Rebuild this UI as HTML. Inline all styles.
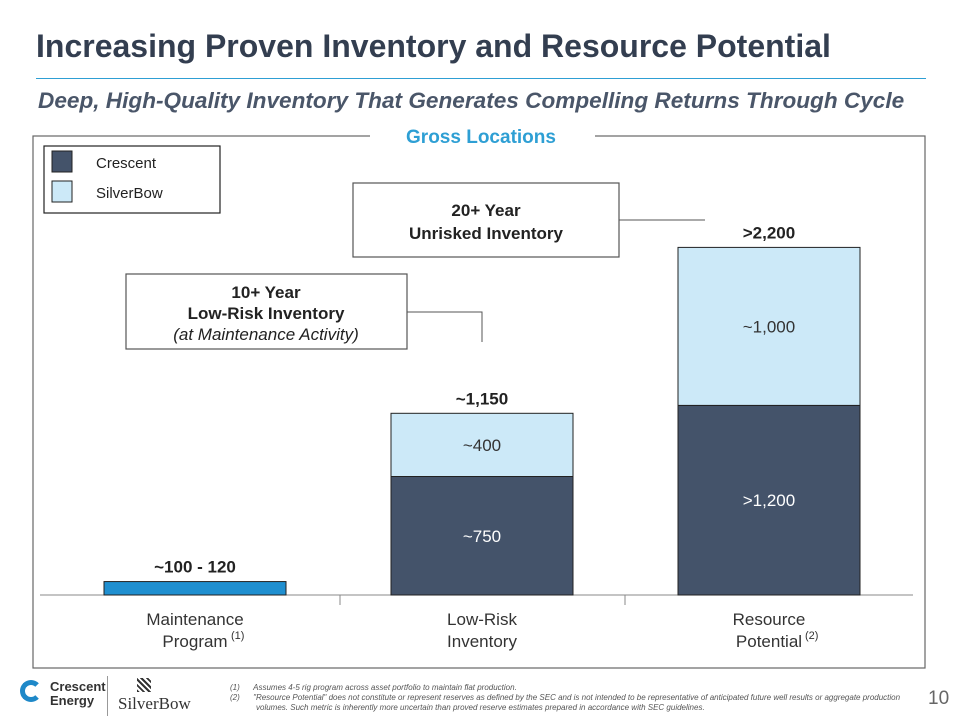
<!DOCTYPE html>
<html><head><meta charset="utf-8"><style>
body{margin:0;width:960px;height:720px;background:#fff;font-family:"Liberation Sans",Arial,sans-serif;overflow:hidden;position:relative}
.abs{position:absolute}
</style></head><body>
<div class="abs" style="left:36px;top:28px;font-size:32px;font-weight:bold;color:#333e50;white-space:nowrap">Increasing Proven Inventory and Resource Potential</div>
<div class="abs" style="left:36px;top:78px;width:890px;height:1px;background:#2e9fd4"></div>
<div class="abs" style="left:38px;top:88px;font-size:22.6px;font-weight:bold;font-style:italic;color:#4a5669;white-space:nowrap">Deep, High-Quality Inventory That Generates Compelling Returns Through Cycle</div>
<svg class="abs" style="left:0;top:0" width="960" height="720" id="chart">
<rect x="33" y="136" width="892" height="532" fill="none" stroke="#666" stroke-width="1.2"/>
<rect x="370" y="125" width="225" height="25" fill="#fff"/>
<text x="481" y="143" text-anchor="middle" font-size="19" font-weight="bold" fill="#2e9fd4">Gross Locations</text>
<g>
<rect x="44" y="146" width="176" height="67" fill="#fff" stroke="#222" stroke-width="1.2"/>
<rect x="52" y="151" width="20" height="21" fill="#44536a" stroke="#222"/>
<text x="96" y="168" font-size="15" fill="#222">Crescent</text>
<rect x="52" y="181" width="20" height="21" fill="#cce9f8" stroke="#222"/>
<text x="96" y="198" font-size="15" fill="#222">SilverBow</text>
</g>
<g>
<rect x="353" y="183" width="266" height="74" fill="#fff" stroke="#555" stroke-width="1.2"/>
<text x="486" y="216" text-anchor="middle" font-size="17" font-weight="bold" fill="#222">20+ Year</text>
<text x="486" y="239" text-anchor="middle" font-size="17" font-weight="bold" fill="#222">Unrisked Inventory</text>
<polyline points="619,220 705,220" fill="none" stroke="#555"/>
</g>
<g>
<rect x="126" y="274" width="281" height="75" fill="#fff" stroke="#555" stroke-width="1.2"/>
<text x="266" y="298" text-anchor="middle" font-size="17" font-weight="bold" fill="#222">10+ Year</text>
<text x="266" y="319" text-anchor="middle" font-size="17" font-weight="bold" fill="#222">Low-Risk Inventory</text>
<text x="266" y="340" text-anchor="middle" font-size="17" font-style="italic" fill="#222">(at Maintenance Activity)</text>
<polyline points="407,312 482,312 482,342" fill="none" stroke="#555"/>
</g>
<line x1="40" y1="595" x2="913" y2="595" stroke="#888"/>
<line x1="340" y1="595" x2="340" y2="605" stroke="#888"/>
<line x1="625" y1="595" x2="625" y2="605" stroke="#888"/>
<g id="bars"></g>
</svg>
<div class="abs" style="left:230px;top:683px;font-size:8px;font-style:italic;color:#555;line-height:10px;width:700px;white-space:nowrap">
<div>(1)&nbsp;&nbsp;&nbsp;&nbsp;&nbsp;&nbsp;Assumes 4-5 rig program across asset portfolio to maintain flat production.</div>
<div>(2)&nbsp;&nbsp;&nbsp;&nbsp;&nbsp;&nbsp;"Resource Potential" does not constitute or represent reserves as defined by the SEC and is not intended to be representative of anticipated future well results or aggregate production</div>
<div style="padding-left:26px">volumes. Such metric is inherently more uncertain than proved reserve estimates prepared in accordance with SEC guidelines.</div>
</div>
<div class="abs" style="left:928px;top:688px;font-size:19px;color:#666">10</div>
<div class="abs" style="left:20px;top:680px;width:22px;height:22px;border:5px solid #1e88c8;border-right-color:transparent;border-radius:50%;box-sizing:border-box"></div>
<div class="abs" style="left:50px;top:680px;font-size:13px;font-weight:bold;color:#333;line-height:14px">Crescent<br>Energy</div>
<div class="abs" style="left:107px;top:676px;width:1px;height:40px;background:#999"></div>
<div class="abs" style="left:118px;top:694px;font-family:'Liberation Serif',serif;font-size:17px;color:#333">SilverBow</div>
<div class="abs" style="left:137px;top:678px;width:14px;height:14px;background:repeating-linear-gradient(45deg,#333 0 2px,#fff 2px 4px)"></div>
<script>
const categories=["Maintenance Program","Low-Risk Inventory","Resource Potential"];
const crescentVals=[85,750,1200];
const silverbowVals=[0,400,1000];
const crescentLabels=["","~750",">1,200"];
const silverbowLabels=["","~400","~1,000"];
const totalLabels=["~100 - 120","~1,150",">2,200"];
const NS="http://www.w3.org/2000/svg";
const g=document.getElementById('bars');
const base=595,scale=0.158,x0=104,step=287,bw=182;
const y=v=>base-v*scale;
function mk(t,a){const e=document.createElementNS(NS,t);for(const k in a)e.setAttribute(k,a[k]);g.appendChild(e);return e;}
categories.forEach((c,i)=>{
 const x=x0+i*step;
 const c1=crescentVals[i],s1=silverbowVals[i];
 const r=mk('rect',{x:x,y:y(c1),width:bw,height:c1*scale,fill:i===0?'#1f8fd0':'#44536a',stroke:'#222','stroke-width':1});
 
 
 if(crescentLabels[i]){const t=mk('text',{x:x+bw/2,y:y(c1/2)+6,'text-anchor':'middle','font-size':17,fill:'#fff'});t.textContent=crescentLabels[i];
 
 }
 if(s1>0){const r2=mk('rect',{x:x,y:y(c1+s1),width:bw,height:s1*scale,fill:'#cce9f8',stroke:'#222','stroke-width':1});
 
 
 const t=mk('text',{x:x+bw/2,y:y(c1+s1/2)+6,'text-anchor':'middle','font-size':17,fill:'#333'});t.textContent=silverbowLabels[i];
 
 }
 const tt=mk('text',{x:x+bw/2,y:y(c1+s1)-9,'text-anchor':'middle','font-size':17,'font-weight':'bold',fill:'#222'});tt.textContent=totalLabels[i];
 
 
 const w=c.split(' ');
 const l1=mk('text',{x:x+bw/2,y:625,'text-anchor':'middle','font-size':17,fill:'#333'});l1.textContent=w[0];
 
 
 const l2=mk('text',{x:x+bw/2,y:647,'text-anchor':'middle','font-size':17,fill:'#333'});l2.textContent=w[1];
 
 
 if(i!==1){const s=mk('text',{x:x+bw/2+36,y:639,'font-size':11,fill:'#333'});s.textContent=i===0?'(1)':'(2)';
 
 }
});
</script>
</body></html>
